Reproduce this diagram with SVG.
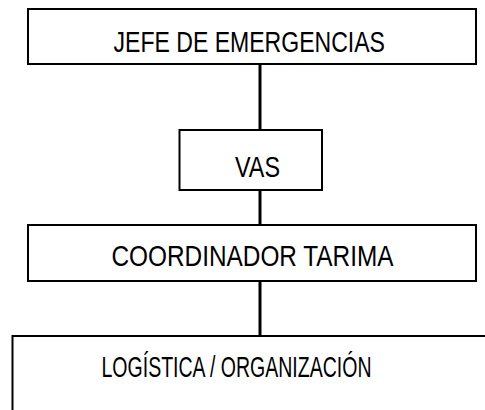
<svg xmlns="http://www.w3.org/2000/svg" width="485" height="410" viewBox="0 0 485 410">
<style>
.box{fill:#fff;stroke:#000;stroke-width:2}
.lbl{font-family:"Liberation Sans",Arial,sans-serif;font-size:30px;fill:#000}
.con{stroke:#000;stroke-width:3;fill:none}
</style>
<rect width="485" height="410" fill="#fff"/>
<g id="connectors">
<line class="con" x1="260" y1="64" x2="260" y2="130"/>
<line class="con" x1="260" y1="190" x2="260" y2="225"/>
<line class="con" x1="260" y1="281" x2="260" y2="336"/>
</g>
<g id="jefe">
<rect class="box" x="28" y="9" width="448" height="55"/>
<text class="lbl" x="113.5" y="52" textLength="271.5" lengthAdjust="spacingAndGlyphs">JEFE DE EMERGENCIAS</text>
</g>
<g id="vas">
<rect class="box" x="179.5" y="130" width="142.5" height="60"/>
<text class="lbl" x="235" y="177" textLength="45" lengthAdjust="spacingAndGlyphs">VAS</text>
</g>
<g id="coordinador">
<rect class="box" x="28" y="225" width="448" height="56"/>
<text class="lbl" x="111.5" y="266" textLength="282" lengthAdjust="spacingAndGlyphs">COORDINADOR TARIMA</text>
</g>
<g id="logistica">
<path class="box" d="M12.5 410 V336 H485"/>
<text class="lbl" x="101.5" y="377" textLength="270" lengthAdjust="spacingAndGlyphs">LOGÍSTICA / ORGANIZACIÓN</text>
</g>
</svg>
